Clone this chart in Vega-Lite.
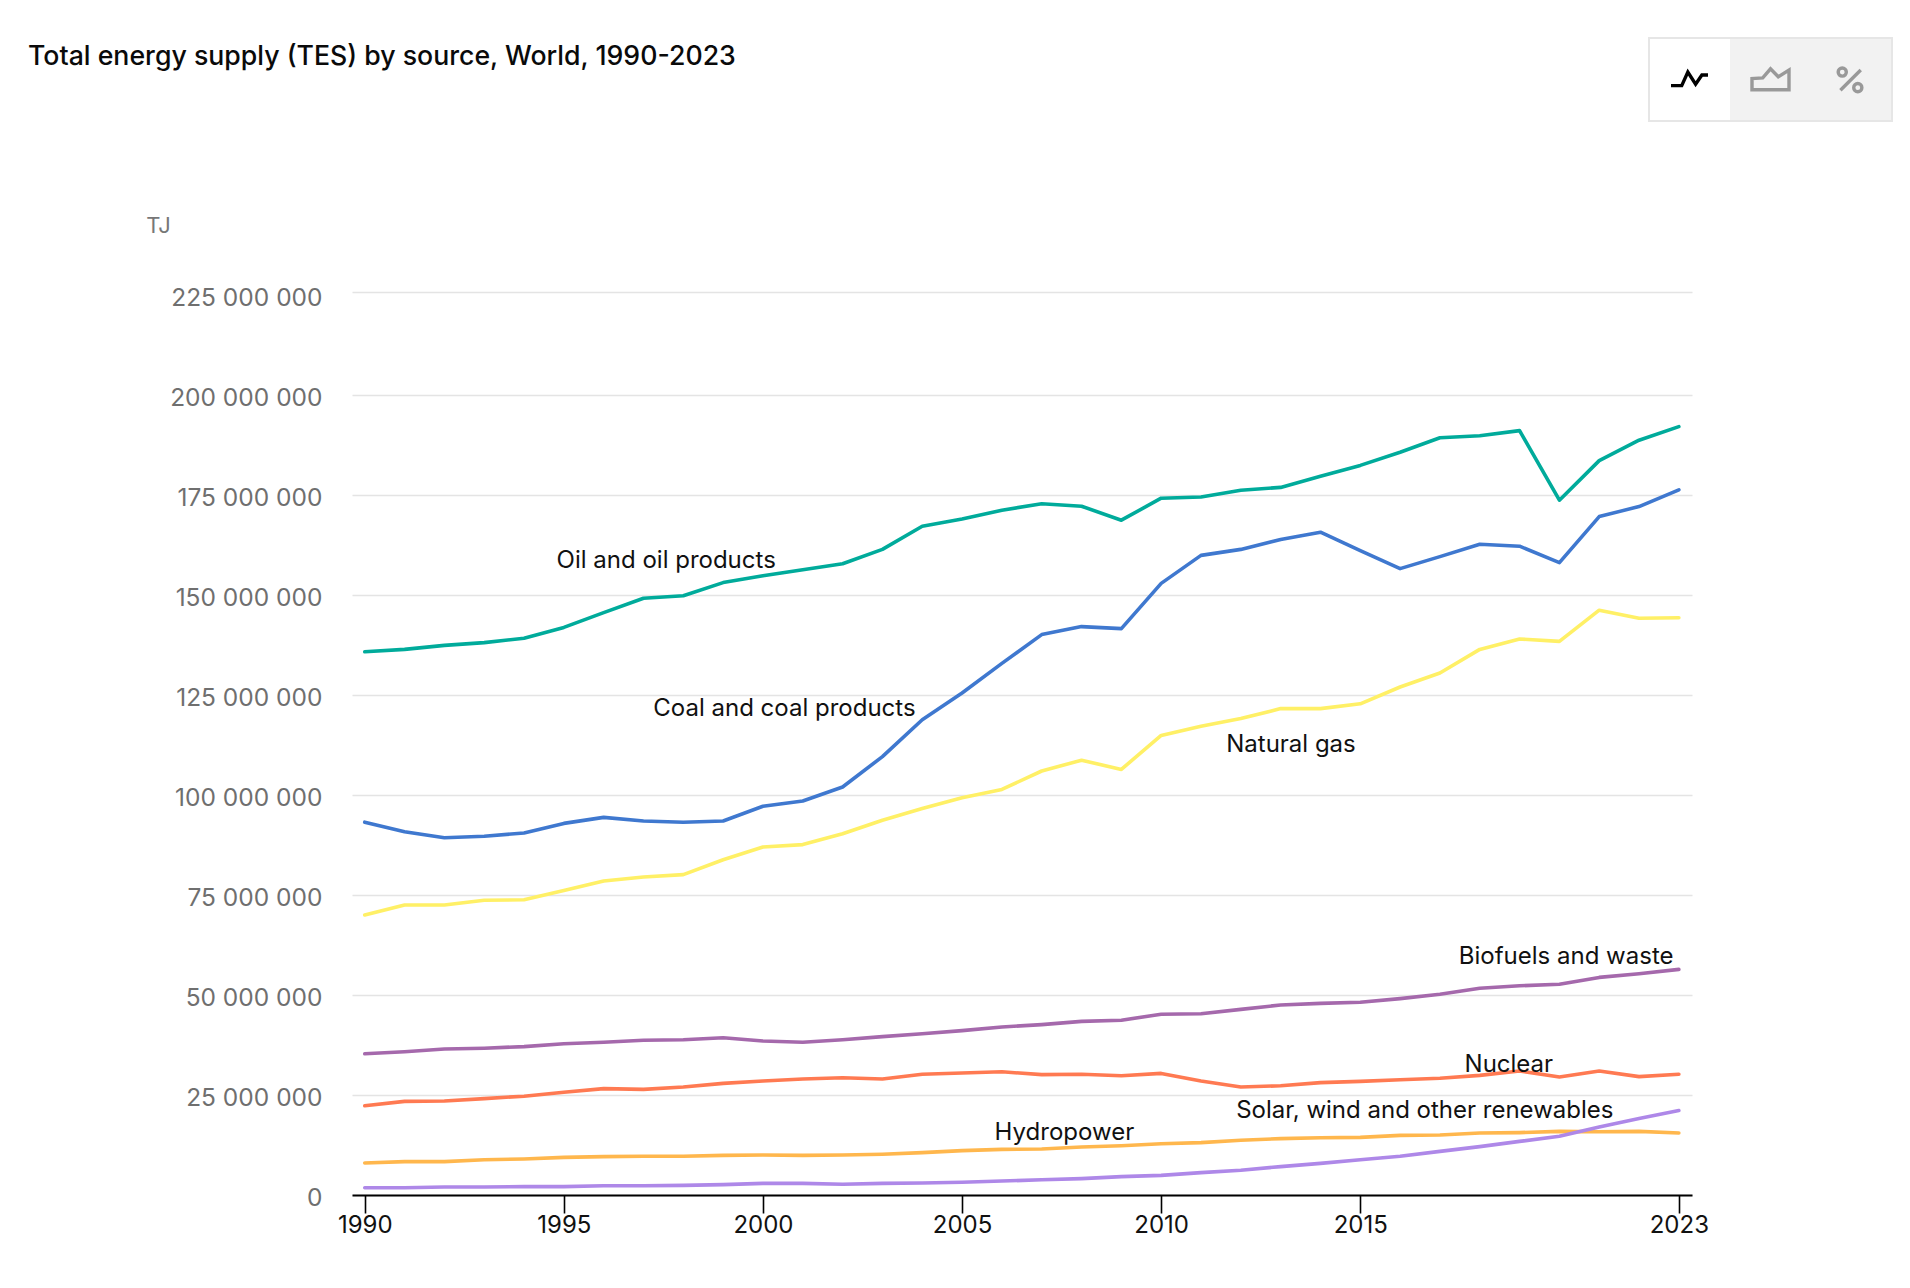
{
"$schema":"https://vega.github.io/schema/vega-lite/v6.json",
"width":1340,"height":903,
"autosize":"none",
"padding":{"left":352,"top":292,"right":218,"bottom":93},
"background":"white",
"view":{"stroke":null},
"title":{"text":"Total energy supply (TES) by source, World, 1990-2023","anchor":"start","frame":"group","dx":-324,"dy":34,"offset":0,"font":"Inter","fontSize":26.7,"fontWeight":500,"color":"#0a0a0a"},
"datasets":{
"supply":[
{"source":"Oil","year":1990,"value":135800000},{"source":"Oil","year":1991,"value":136400000},{"source":"Oil","year":1992,"value":137400000},{"source":"Oil","year":1993,"value":138100000},{"source":"Oil","year":1994,"value":139200000},{"source":"Oil","year":1995,"value":141900000},{"source":"Oil","year":1996,"value":145600000},{"source":"Oil","year":1997,"value":149200000},{"source":"Oil","year":1998,"value":149800000},{"source":"Oil","year":1999,"value":153100000},{"source":"Oil","year":2000,"value":154800000},{"source":"Oil","year":2001,"value":156300000},{"source":"Oil","year":2002,"value":157800000},{"source":"Oil","year":2003,"value":161400000},{"source":"Oil","year":2004,"value":167200000},{"source":"Oil","year":2005,"value":169000000},{"source":"Oil","year":2006,"value":171200000},{"source":"Oil","year":2007,"value":172800000},{"source":"Oil","year":2008,"value":172200000},{"source":"Oil","year":2009,"value":168700000},{"source":"Oil","year":2010,"value":174200000},{"source":"Oil","year":2011,"value":174500000},{"source":"Oil","year":2012,"value":176200000},{"source":"Oil","year":2013,"value":176900000},{"source":"Oil","year":2014,"value":179700000},{"source":"Oil","year":2015,"value":182400000},{"source":"Oil","year":2016,"value":185700000},{"source":"Oil","year":2017,"value":189300000},{"source":"Oil","year":2018,"value":189800000},{"source":"Oil","year":2019,"value":191100000},{"source":"Oil","year":2020,"value":173700000},{"source":"Oil","year":2021,"value":183600000},{"source":"Oil","year":2022,"value":188700000},{"source":"Oil","year":2023,"value":192100000},
{"source":"Coal","year":1990,"value":93200000},{"source":"Coal","year":1991,"value":90800000},{"source":"Coal","year":1992,"value":89300000},{"source":"Coal","year":1993,"value":89700000},{"source":"Coal","year":1994,"value":90500000},{"source":"Coal","year":1995,"value":92900000},{"source":"Coal","year":1996,"value":94400000},{"source":"Coal","year":1997,"value":93500000},{"source":"Coal","year":1998,"value":93200000},{"source":"Coal","year":1999,"value":93500000},{"source":"Coal","year":2000,"value":97200000},{"source":"Coal","year":2001,"value":98500000},{"source":"Coal","year":2002,"value":102000000},{"source":"Coal","year":2003,"value":109600000},{"source":"Coal","year":2004,"value":118800000},{"source":"Coal","year":2005,"value":125500000},{"source":"Coal","year":2006,"value":132900000},{"source":"Coal","year":2007,"value":140100000},{"source":"Coal","year":2008,"value":142100000},{"source":"Coal","year":2009,"value":141600000},{"source":"Coal","year":2010,"value":152900000},{"source":"Coal","year":2011,"value":159900000},{"source":"Coal","year":2012,"value":161400000},{"source":"Coal","year":2013,"value":163900000},{"source":"Coal","year":2014,"value":165700000},{"source":"Coal","year":2015,"value":161100000},{"source":"Coal","year":2016,"value":156600000},{"source":"Coal","year":2017,"value":159600000},{"source":"Coal","year":2018,"value":162700000},{"source":"Coal","year":2019,"value":162200000},{"source":"Coal","year":2020,"value":158100000},{"source":"Coal","year":2021,"value":169600000},{"source":"Coal","year":2022,"value":172100000},{"source":"Coal","year":2023,"value":176300000},
{"source":"Gas","year":1990,"value":70000000},{"source":"Gas","year":1991,"value":72500000},{"source":"Gas","year":1992,"value":72500000},{"source":"Gas","year":1993,"value":73700000},{"source":"Gas","year":1994,"value":73800000},{"source":"Gas","year":1995,"value":76100000},{"source":"Gas","year":1996,"value":78500000},{"source":"Gas","year":1997,"value":79500000},{"source":"Gas","year":1998,"value":80100000},{"source":"Gas","year":1999,"value":83800000},{"source":"Gas","year":2000,"value":87000000},{"source":"Gas","year":2001,"value":87600000},{"source":"Gas","year":2002,"value":90300000},{"source":"Gas","year":2003,"value":93700000},{"source":"Gas","year":2004,"value":96600000},{"source":"Gas","year":2005,"value":99300000},{"source":"Gas","year":2006,"value":101400000},{"source":"Gas","year":2007,"value":106000000},{"source":"Gas","year":2008,"value":108700000},{"source":"Gas","year":2009,"value":106400000},{"source":"Gas","year":2010,"value":114900000},{"source":"Gas","year":2011,"value":117200000},{"source":"Gas","year":2012,"value":119100000},{"source":"Gas","year":2013,"value":121600000},{"source":"Gas","year":2014,"value":121600000},{"source":"Gas","year":2015,"value":122800000},{"source":"Gas","year":2016,"value":127000000},{"source":"Gas","year":2017,"value":130500000},{"source":"Gas","year":2018,"value":136400000},{"source":"Gas","year":2019,"value":139000000},{"source":"Gas","year":2020,"value":138400000},{"source":"Gas","year":2021,"value":146200000},{"source":"Gas","year":2022,"value":144200000},{"source":"Gas","year":2023,"value":144300000},
{"source":"Biofuels","year":1990,"value":35300000},{"source":"Biofuels","year":1991,"value":35800000},{"source":"Biofuels","year":1992,"value":36500000},{"source":"Biofuels","year":1993,"value":36700000},{"source":"Biofuels","year":1994,"value":37100000},{"source":"Biofuels","year":1995,"value":37800000},{"source":"Biofuels","year":1996,"value":38200000},{"source":"Biofuels","year":1997,"value":38700000},{"source":"Biofuels","year":1998,"value":38800000},{"source":"Biofuels","year":1999,"value":39300000},{"source":"Biofuels","year":2000,"value":38500000},{"source":"Biofuels","year":2001,"value":38200000},{"source":"Biofuels","year":2002,"value":38800000},{"source":"Biofuels","year":2003,"value":39600000},{"source":"Biofuels","year":2004,"value":40300000},{"source":"Biofuels","year":2005,"value":41100000},{"source":"Biofuels","year":2006,"value":42000000},{"source":"Biofuels","year":2007,"value":42600000},{"source":"Biofuels","year":2008,"value":43400000},{"source":"Biofuels","year":2009,"value":43700000},{"source":"Biofuels","year":2010,"value":45200000},{"source":"Biofuels","year":2011,"value":45300000},{"source":"Biofuels","year":2012,"value":46400000},{"source":"Biofuels","year":2013,"value":47500000},{"source":"Biofuels","year":2014,"value":47900000},{"source":"Biofuels","year":2015,"value":48200000},{"source":"Biofuels","year":2016,"value":49100000},{"source":"Biofuels","year":2017,"value":50200000},{"source":"Biofuels","year":2018,"value":51700000},{"source":"Biofuels","year":2019,"value":52300000},{"source":"Biofuels","year":2020,"value":52700000},{"source":"Biofuels","year":2021,"value":54400000},{"source":"Biofuels","year":2022,"value":55300000},{"source":"Biofuels","year":2023,"value":56400000},
{"source":"Nuclear","year":1990,"value":22300000},{"source":"Nuclear","year":1991,"value":23400000},{"source":"Nuclear","year":1992,"value":23500000},{"source":"Nuclear","year":1993,"value":24100000},{"source":"Nuclear","year":1994,"value":24700000},{"source":"Nuclear","year":1995,"value":25700000},{"source":"Nuclear","year":1996,"value":26600000},{"source":"Nuclear","year":1997,"value":26400000},{"source":"Nuclear","year":1998,"value":27000000},{"source":"Nuclear","year":1999,"value":27900000},{"source":"Nuclear","year":2000,"value":28500000},{"source":"Nuclear","year":2001,"value":29000000},{"source":"Nuclear","year":2002,"value":29300000},{"source":"Nuclear","year":2003,"value":29000000},{"source":"Nuclear","year":2004,"value":30200000},{"source":"Nuclear","year":2005,"value":30500000},{"source":"Nuclear","year":2006,"value":30800000},{"source":"Nuclear","year":2007,"value":30100000},{"source":"Nuclear","year":2008,"value":30200000},{"source":"Nuclear","year":2009,"value":29800000},{"source":"Nuclear","year":2010,"value":30400000},{"source":"Nuclear","year":2011,"value":28500000},{"source":"Nuclear","year":2012,"value":27000000},{"source":"Nuclear","year":2013,"value":27300000},{"source":"Nuclear","year":2014,"value":28100000},{"source":"Nuclear","year":2015,"value":28400000},{"source":"Nuclear","year":2016,"value":28800000},{"source":"Nuclear","year":2017,"value":29200000},{"source":"Nuclear","year":2018,"value":29900000},{"source":"Nuclear","year":2019,"value":31000000},{"source":"Nuclear","year":2020,"value":29500000},{"source":"Nuclear","year":2021,"value":31000000},{"source":"Nuclear","year":2022,"value":29600000},{"source":"Nuclear","year":2023,"value":30200000},
{"source":"Hydro","year":1990,"value":8000000},{"source":"Hydro","year":1991,"value":8350000},{"source":"Hydro","year":1992,"value":8350000},{"source":"Hydro","year":1993,"value":8800000},{"source":"Hydro","year":1994,"value":9000000},{"source":"Hydro","year":1995,"value":9400000},{"source":"Hydro","year":1996,"value":9600000},{"source":"Hydro","year":1997,"value":9700000},{"source":"Hydro","year":1998,"value":9700000},{"source":"Hydro","year":1999,"value":9900000},{"source":"Hydro","year":2000,"value":10000000},{"source":"Hydro","year":2001,"value":9900000},{"source":"Hydro","year":2002,"value":10000000},{"source":"Hydro","year":2003,"value":10200000},{"source":"Hydro","year":2004,"value":10600000},{"source":"Hydro","year":2005,"value":11100000},{"source":"Hydro","year":2006,"value":11400000},{"source":"Hydro","year":2007,"value":11500000},{"source":"Hydro","year":2008,"value":12000000},{"source":"Hydro","year":2009,"value":12300000},{"source":"Hydro","year":2010,"value":12800000},{"source":"Hydro","year":2011,"value":13100000},{"source":"Hydro","year":2012,"value":13700000},{"source":"Hydro","year":2013,"value":14100000},{"source":"Hydro","year":2014,"value":14300000},{"source":"Hydro","year":2015,"value":14400000},{"source":"Hydro","year":2016,"value":14900000},{"source":"Hydro","year":2017,"value":15000000},{"source":"Hydro","year":2018,"value":15500000},{"source":"Hydro","year":2019,"value":15600000},{"source":"Hydro","year":2020,"value":15900000},{"source":"Hydro","year":2021,"value":15800000},{"source":"Hydro","year":2022,"value":15900000},{"source":"Hydro","year":2023,"value":15500000},
{"source":"Renewables","year":1990,"value":1800000},{"source":"Renewables","year":1991,"value":1800000},{"source":"Renewables","year":1992,"value":2000000},{"source":"Renewables","year":1993,"value":2000000},{"source":"Renewables","year":1994,"value":2100000},{"source":"Renewables","year":1995,"value":2100000},{"source":"Renewables","year":1996,"value":2300000},{"source":"Renewables","year":1997,"value":2300000},{"source":"Renewables","year":1998,"value":2400000},{"source":"Renewables","year":1999,"value":2600000},{"source":"Renewables","year":2000,"value":2900000},{"source":"Renewables","year":2001,"value":2900000},{"source":"Renewables","year":2002,"value":2700000},{"source":"Renewables","year":2003,"value":2900000},{"source":"Renewables","year":2004,"value":3000000},{"source":"Renewables","year":2005,"value":3200000},{"source":"Renewables","year":2006,"value":3500000},{"source":"Renewables","year":2007,"value":3800000},{"source":"Renewables","year":2008,"value":4100000},{"source":"Renewables","year":2009,"value":4600000},{"source":"Renewables","year":2010,"value":4900000},{"source":"Renewables","year":2011,"value":5600000},{"source":"Renewables","year":2012,"value":6200000},{"source":"Renewables","year":2013,"value":7100000},{"source":"Renewables","year":2014,"value":7900000},{"source":"Renewables","year":2015,"value":8800000},{"source":"Renewables","year":2016,"value":9700000},{"source":"Renewables","year":2017,"value":10900000},{"source":"Renewables","year":2018,"value":12100000},{"source":"Renewables","year":2019,"value":13400000},{"source":"Renewables","year":2020,"value":14700000},{"source":"Renewables","year":2021,"value":17000000},{"source":"Renewables","year":2022,"value":19100000},{"source":"Renewables","year":2023,"value":21100000}
],
"names":[
{"label":"Oil and oil products","year":1997.57,"value":158500000},
{"label":"Coal and coal products","year":2000.54,"value":121500000},
{"label":"Natural gas","year":2013.26,"value":112600000},
{"label":"Biofuels and waste","year":2020.17,"value":59500000},
{"label":"Nuclear","year":2018.73,"value":32500000},
{"label":"Hydropower","year":2007.57,"value":15500000},
{"label":"Solar, wind and other renewables","year":2016.62,"value":21000000}
],
"views":[{"view":"Lines","group":"Switch"},{"view":"Area","group":"Switch"},{"view":"Percent","group":"Switch"}],
"frame":[{"group":"Switch"}]
},
"resolve":{"scale":{"x":"independent","y":"independent"}},
"layer":[
{"layer":[
{"data":{"name":"supply"},
"mark":{"type":"line","strokeWidth":3.6,"strokeJoin":"round","strokeCap":"round"},
"encoding":{
"x":{"field":"year","type":"quantitative","scale":{"domain":[1989.68,2023.33],"nice":false,"zero":false},
"axis":{"title":null,"values":[1990,1995,2000,2005,2010,2015,2023],"format":"d","grid":false,"domainColor":"#000000","domainWidth":2,"tickColor":"#000000","tickWidth":1.6,"tickSize":18,"labelColor":"#111111","labelFont":"Inter","labelFontSize":24,"labelPadding":0,"labelFlush":false,"labelOverlap":false}},
"y":{"field":"value","type":"quantitative","scale":{"domain":[0,200000000,225000000],"range":[903,103,0],"nice":false},
"axis":{"title":"TJ","titleAngle":0,"titleX":-194,"titleY":-67,"titleAlign":"center","titleBaseline":"middle","titleFont":"Inter","titleFontSize":22,"titleFontWeight":400,"titleColor":"#777777","values":[0,25000000,50000000,75000000,100000000,125000000,150000000,175000000,200000000,225000000],"labelExpr":"replace(format(datum.value,','),/,/g,' ')","labelColor":"#6f6f6f","labelFont":"Inter","labelFontSize":24.5,"labelPadding":30,"labelOffset":{"condition":{"test":"datum.value==225000000","value":6},"value":3.7},"ticks":false,"domain":false,"grid":true,"gridColor":"#e4e4e4","gridWidth":1.6}},
"color":{"field":"source","type":"nominal","legend":null,"scale":{"domain":["Oil","Coal","Gas","Biofuels","Nuclear","Hydro","Renewables"],"range":["#00ab9b","#3f78cf","#fff066","#a569ac","#ff7a52","#ffb74d","#ae88e8"]}},
"detail":{"field":"source"}
}},
{"data":{"name":"names"},
"mark":{"type":"text","font":"Inter","fontSize":24,"color":"#111111","align":"center","baseline":"middle"},
"encoding":{
"x":{"field":"year","type":"quantitative"},
"y":{"field":"value","type":"quantitative"},
"text":{"field":"label"}
}}
]},
{"layer":[
{"data":{"name":"views"},
"mark":{"type":"rect"},
"encoding":{
"x":{"field":"view","type":"nominal","axis":null,"scale":{"domain":["Lines","Area","Percent"],"range":[1297,1540],"paddingInner":0,"paddingOuter":0}},
"y":{"field":"group","type":"nominal","axis":null,"scale":{"range":[-254,-171],"paddingInner":0,"paddingOuter":0}},
"fill":{"field":"view","type":"nominal","legend":null,"scale":{"domain":["Lines","Area","Percent"],"range":["#ffffff","#f2f2f2","#f2f2f2"]}}
}},
{"data":{"name":"views"},
"mark":{"type":"point","filled":false,"size":1369,"strokeWidth":3.4,"opacity":1},
"encoding":{
"x":{"field":"view","type":"nominal"},
"y":{"field":"group","type":"nominal"},
"shape":{"field":"view","type":"nominal","legend":null,"scale":{"domain":["Lines","Area","Percent"],"range":["M-1,.33L-.42,.33L-.09,-.4L.33,.25L.67,-.24L1,-.24","M-1,.55L-1,-.05L-.42,-.09L0,-.58L.42,-.15L1,-.51L1,.55Z","M-.72,-.4a.22,.22 0 1,0 .44,0a.22,.22 0 1,0 -.44,0M.12,.44a.22,.22 0 1,0 .44,0a.22,.22 0 1,0 -.44,0M-.6,.58L.5,-.51"]}},
"stroke":{"field":"view","type":"nominal","legend":null,"scale":{"domain":["Lines","Area","Percent"],"range":["#000000","#999999","#999999"]}}
}}
]},
{"data":{"name":"frame"},
"mark":{"type":"rect","fillOpacity":0,"stroke":"#e6e6e6","strokeWidth":2},
"encoding":{
"x":{"field":"group","type":"nominal","axis":null,"scale":{"range":[1297,1540],"paddingInner":0,"paddingOuter":0}},
"y":{"field":"group","type":"nominal","axis":null,"scale":{"range":[-254,-171],"paddingInner":0,"paddingOuter":0}}
}}
]
}
